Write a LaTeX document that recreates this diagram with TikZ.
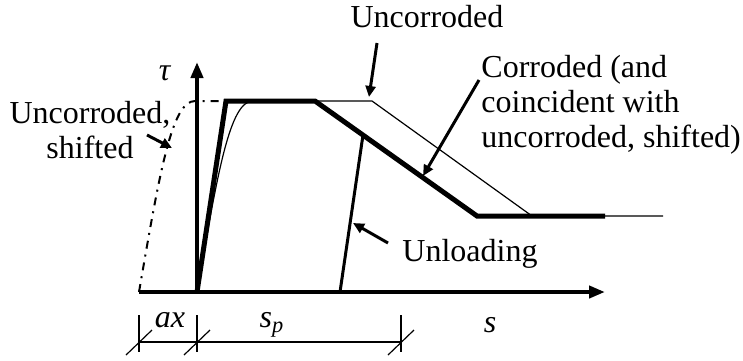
\documentclass[tikz,border=0pt]{standalone}
\usepackage{fontspec}
\setmainfont{Liberation Serif}
\usetikzlibrary{arrows.meta}
\tikzset{
  axis/.style={line width=2pt,-{Triangle[length=8pt,width=6pt]}},
  pointer/.style={line width=1.5pt,-{Triangle[length=5.5pt,width=5pt]}},
  lbl/.style={inner sep=0pt,font=\fontsize{16}{17.5}\selectfont},
  dim/.style={line width=0.6pt},
}
\begin{document}
\begin{tikzpicture}[x=0.5pt,y=-0.5pt]
\useasboundingbox (0,0) rectangle (743,360);
% Axes
\coordinate (O) at (197,292);
\coordinate (xstart) at (139,292);
\coordinate (xend) at (605,292);
\coordinate (ytop) at (197,62);
\draw[axis] (xstart) -- (xend);
\draw[axis] (O) -- (ytop);
% Uncorroded, shifted
\draw[line width=1pt,dash pattern=on 4pt off 3pt on 1pt off 3pt]
  (xstart) .. controls (160,170) and (172,101) .. (195,101) -- (315,101) -- (477,216) -- (605,216);
% Uncorroded
\draw[line width=0.6pt] (O) .. controls (218,170) and (230,101) .. (253,101)
  -- (372,101) -- (532,216) -- (663,216);
% Corroded
\draw[line width=2.5pt] (O) -- (226,101) -- (315,101) -- (477,216) -- (605,216);
% Unloading
\coordinate (u0) at (340,292);
\coordinate (u1) at (363,135);
\draw[line width=1.5pt] (u0) -- (u1);
% Labels
\node[lbl,anchor=base] (tau) at (165,80) {\textit{τ}};
\node[lbl,anchor=base] (lUnc) at (427,27) {Uncorroded};
\node[lbl,anchor=north west,align=left] (lCorr) at (481,55)
  {Corroded (and\\coincident with\\uncorroded, shifted)};
\node[lbl,anchor=north,align=center] (lShift) at (90,101) {Uncorroded,\\shifted};
\node[lbl,anchor=base west] (lUnl) at (402,261) {Unloading};
% Pointers
\coordinate (pUnc) at (369,97);
\coordinate (pCorr) at (423,176);
\coordinate (pShift) at (172,148);
\coordinate (pUnl) at (353,223);
\draw[pointer] (377,43) -- (pUnc);
\draw[pointer] (479,80) -- (pCorr);
\draw[pointer] (147,135) -- (pShift);
\draw[pointer] (388,243) -- (pUnl);
% Dimensions
\foreach \t in {139,197,401}{
  \draw[dim] (\t,315) -- (\t,352);
  \draw[dim] (\t-13,355) -- (\t+13,330);
}
\coordinate (d0) at (139,342);
\coordinate (d2) at (401,342);
\draw[dim] (d0) -- (d2);
\node[lbl,anchor=base] (lax) at (170,327) {\textit{ax}};
\node[lbl,anchor=base] (lsp) at (272,327) {\textit{s}\textsubscript{\textit{p}}};
\node[lbl,anchor=base] (ls) at (490,332) {\textit{s}};
\end{tikzpicture}
\end{document}
